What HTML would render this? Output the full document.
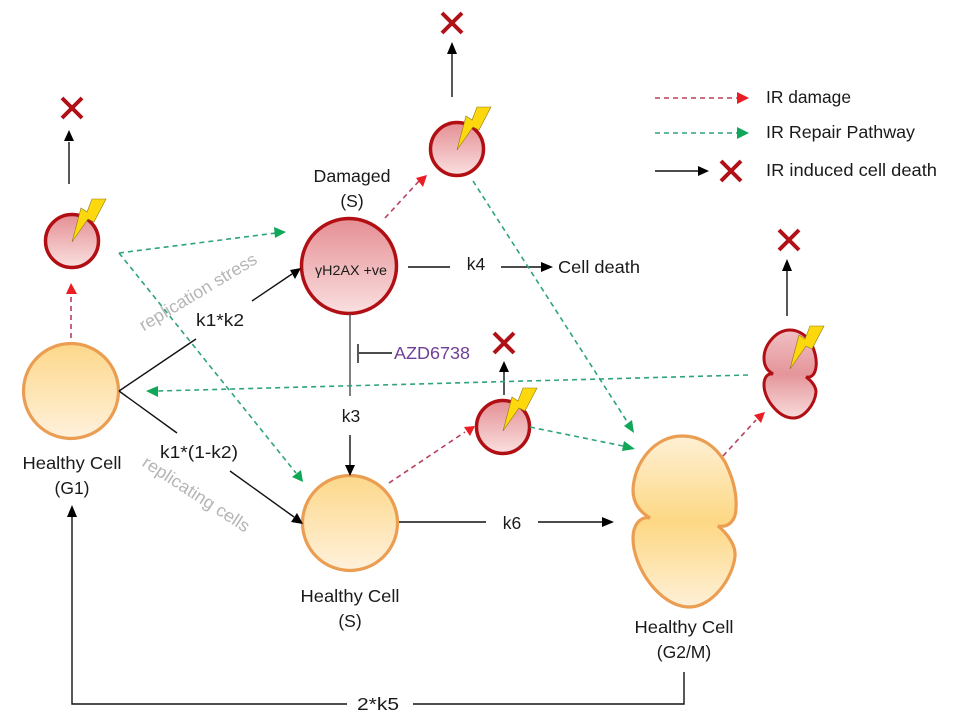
<!DOCTYPE html>
<html>
<head>
<meta charset="utf-8">
<style>
html,body{margin:0;padding:0;background:#fff;width:958px;height:720px;overflow:hidden}
svg{display:block;filter:blur(.3px)}
text{font-family:"Liberation Sans",sans-serif;font-size:17.5px;fill:#1a1a1a}
.m{text-anchor:middle}
.k{stroke:#111;stroke-width:1.4;fill:none}
.r{stroke:#b8405a;stroke-width:1.6;stroke-dasharray:5 4;fill:none}
.g{stroke:#2fa37a;stroke-width:1.6;stroke-dasharray:5 4;fill:none}
.x{stroke:#b01116;stroke-width:4;fill:none}
.cr{fill:url(#red);stroke:#b10f14;stroke-width:3.5}
.co{fill:url(#or);stroke:#eb9d52;stroke-width:3.2}
.co2{fill:url(#or2);stroke:#eb9d52;stroke-width:3.2}
.b{fill:#fcd80c;stroke:#8f7a10;stroke-width:.6}
</style>
</head>
<body>
<svg width="958" height="720" viewBox="0 0 958 720" xmlns="http://www.w3.org/2000/svg">
<defs>
<linearGradient id="red" x1="0" y1="0" x2="0" y2="1"><stop offset="0" stop-color="#e58f94"/><stop offset="1" stop-color="#fae0e0"/></linearGradient>
<linearGradient id="or" x1="0" y1="0" x2="0" y2="1"><stop offset="0" stop-color="#fdd88a"/><stop offset="1" stop-color="#fef1dc"/></linearGradient>
<linearGradient id="or2" x1="0" y1="0" x2="0" y2="1"><stop offset="0" stop-color="#fef0d4"/><stop offset=".5" stop-color="#fdd884"/><stop offset="1" stop-color="#fef0d8"/></linearGradient>
<linearGradient id="red2" x1="0" y1="0" x2="0" y2="1"><stop offset="0" stop-color="#f0c0c4"/><stop offset=".5" stop-color="#e5959a"/><stop offset="1" stop-color="#f8dcdc"/></linearGradient>
<g id="bolt"><path class="b" d="M0,0 L9,-34 L15,-30 L20,-43 L34,-43 L22,-20 L16,-23 Z"/></g>
<g id="cross"><path class="x" d="M-10,-10 L10,10 M10,-10 L-10,10"/></g>
</defs>

<!-- cells -->
<circle class="co" cx="71" cy="391" r="47.5"/>
<circle class="co" cx="350" cy="523" r="47.5"/>
<path class="co2" d="M682,436 C702,436 716,447 725,462 C732,476 737,492 736,508 C736,520 729,528 718,526 C728,534 736,546 735,556 C733,578 712,608 688,607 C660,606 633,568 633,538 C633,525 640,516 650,518 C640,512 633,503 633,490 C634,462 655,436 682,436Z"/>
<circle class="cr" cx="349" cy="266" r="47.5"/>
<circle class="cr" cx="72" cy="241" r="26.5"/>
<circle class="cr" cx="457" cy="149" r="26.5"/>
<circle class="cr" cx="503" cy="427" r="26.5"/>
<path d="M790,330 C800,330 808,337 812,345 C815,352 817,360 816,367 C815,374 812,378 806,377 C812,381 816,387 816,392 C815,404 804,419 792,418 C778,417 764,399 764,385 C764,378 767,373 773,374 C768,371 764,367 764,358 C764,345 776,330 790,330Z" fill="url(#red2)" stroke="#b10f14" stroke-width="3"/>

<!-- bolts -->
<use href="#bolt" x="72" y="242"/>
<use href="#bolt" x="457" y="150"/>
<use href="#bolt" x="503" y="431"/>
<use href="#bolt" x="790" y="369"/>

<!-- crosses -->
<use href="#cross" x="72" y="108"/>
<use href="#cross" x="452" y="23"/>
<use href="#cross" x="504" y="343"/>
<use href="#cross" x="789" y="240"/>
<use href="#cross" x="731" y="171"/>

<!-- black arrows -->
<path class="k" d="M69,184 V142"/><path d="M69,130 L64,141 H74Z" fill="#000"/>
<path class="k" d="M452,97 V54"/><path d="M452,42 L447,54 H457Z" fill="#000"/>
<path class="k" d="M504,395 V371"/><path d="M504,361 L499,372 H509Z" fill="#000"/>
<path class="k" d="M787,316 V271"/><path d="M787,259 L782,271 H792Z" fill="#000"/>
<path class="k" d="M119,391 L196,339"/>
<path class="k" d="M252,301 L292,274"/><path d="M301,268 L290,270 L295,279Z" fill="#000"/>
<path class="k" d="M119,391 L177,433"/>
<path class="k" d="M230,471 L294,517"/><path d="M303,524 L297,513 L291,522Z" fill="#000"/>
<path class="k" d="M408,267 H450"/>
<path class="k" d="M501,267 H542"/><path d="M553,267 L541,262 V272Z" fill="#000"/>
<path d="M350,314 V396" stroke="#555" stroke-width="1.5" fill="none"/>
<path class="k" d="M350,435 V466"/><path d="M350,476 L345,465 H355Z" fill="#000"/>
<path class="k" d="M358,344 V363 M359,353 H392"/>
<path class="k" d="M399,522 H486"/>
<path class="k" d="M538,522 H603"/><path d="M614,522 L602,517 V527Z" fill="#000"/>
<path class="k" d="M684,672 V704 H413"/>
<path class="k" d="M347,704 H72 V517"/><path d="M72,505 L67,517 H77Z" fill="#000"/>
<path class="k" d="M655,171 H699"/><path d="M709,171 L698,166 V176Z" fill="#000"/>

<!-- red dashed -->
<path class="r" d="M71,338 V292"/><path d="M71,283 L66,294 H77Z" fill="#ea1c24"/>
<path class="r" d="M385,218 L419,181"/><path d="M427,175 L416,178 L423,187Z" fill="#ea1c24"/>
<path class="r" d="M389,483 L465,432"/><path d="M475,426 L464,427 L470,436Z" fill="#ea1c24"/>
<path class="r" d="M723,456 L756,420"/><path d="M765,412 L754,415 L761,423Z" fill="#ea1c24"/>
<path class="r" d="M655,98 H737"/><path d="M749,98 L737,92 V104Z" fill="#ea1c24"/>

<!-- green dashed -->
<path class="g" d="M119,253 L276,233"/><path d="M286,232 L274,227 L275,238Z" fill="#10a858"/>
<path class="g" d="M119,253 L296,473"/><path d="M303,482 L301,470 L292,477Z" fill="#10a858"/>
<path class="g" d="M473,181 L628,423"/><path d="M634,433 L632,420 L624,426Z" fill="#10a858"/>
<path class="g" d="M748,375 L158,391"/><path d="M146,391 L158,386 V397Z" fill="#10a858"/>
<path class="g" d="M530,427 L623,446"/><path d="M635,449 L624,441 L622,451Z" fill="#10a858"/>
<path class="g" d="M655,133 H737"/><path d="M749,133 L737,127 V139Z" fill="#10a858"/>

<!-- labels -->
<text class="m" x="352" y="182" textLength="77" lengthAdjust="spacingAndGlyphs">Damaged</text>
<text class="m" x="352" y="207">(S)</text>
<text class="m" x="351" y="275" style="font-size:14px" textLength="72" lengthAdjust="spacingAndGlyphs">γH2AX +ve</text>
<text class="m" x="476" y="270">k4</text>
<text x="558" y="273" textLength="82" lengthAdjust="spacingAndGlyphs">Cell death</text>
<text x="394" y="359" style="fill:#6f3f96" textLength="76" lengthAdjust="spacingAndGlyphs">AZD6738</text>
<text class="m" x="351" y="422">k3</text>
<text class="m" x="220" y="326" textLength="48" lengthAdjust="spacingAndGlyphs">k1*k2</text>
<text class="m" x="199" y="458" textLength="78" lengthAdjust="spacingAndGlyphs">k1*(1-k2)</text>
<text class="m" x="512" y="529">k6</text>
<text class="m" x="72" y="469" textLength="99" lengthAdjust="spacingAndGlyphs">Healthy Cell</text>
<text class="m" x="72" y="494">(G1)</text>
<text class="m" x="350" y="602" textLength="99" lengthAdjust="spacingAndGlyphs">Healthy Cell</text>
<text class="m" x="350" y="627">(S)</text>
<text class="m" x="684" y="633" textLength="99" lengthAdjust="spacingAndGlyphs">Healthy Cell</text>
<text class="m" x="684" y="658">(G2/M)</text>
<text class="m" x="378" y="710" textLength="42" lengthAdjust="spacingAndGlyphs">2*k5</text>
<text x="766" y="103" textLength="85" lengthAdjust="spacingAndGlyphs">IR damage</text>
<text x="766" y="138" textLength="149" lengthAdjust="spacingAndGlyphs">IR Repair Pathway</text>
<text x="766" y="176" textLength="171" lengthAdjust="spacingAndGlyphs">IR induced cell death</text>
<text class="m" transform="translate(201,297) rotate(-31)" style="fill:#b5b5b5" textLength="134" lengthAdjust="spacingAndGlyphs">replication stress</text>
<text class="m" transform="translate(193,499) rotate(33)" style="fill:#b5b5b5" textLength="124" lengthAdjust="spacingAndGlyphs">replicating cells</text>
</svg>
</body>
</html>
